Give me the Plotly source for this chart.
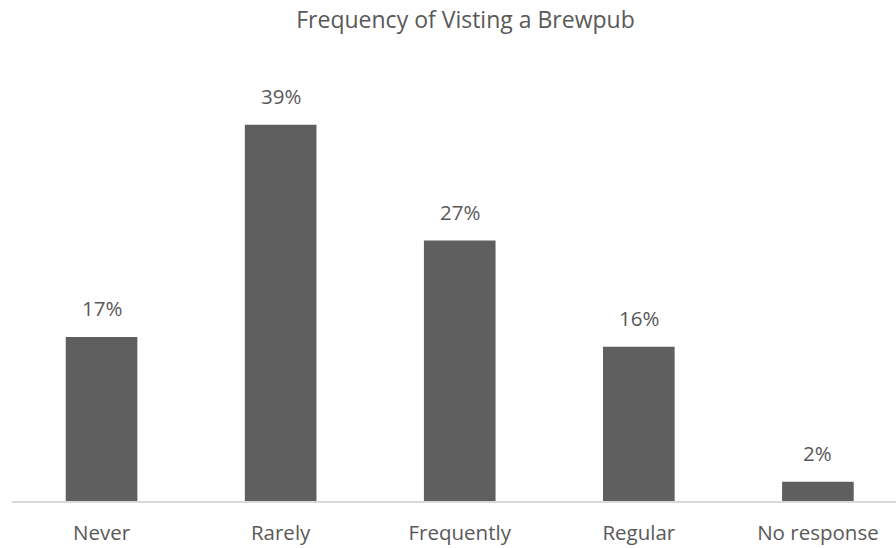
import plotly.graph_objects as go

categories = ["Never", "Rarely", "Frequently", "Regular", "No response"]
shares = [0.17, 0.39, 0.27, 0.16, 0.02]
labels = ["17%", "39%", "27%", "16%", "2%"]

text_color = "#595959"
font_family = "Open Sans, Liberation Sans, sans-serif"
positions = list(range(len(categories)))

fig = go.Figure(
    go.Bar(
        x=positions,
        y=shares,
        width=0.4,
        marker=dict(color="#5f5f5f", line=dict(width=0)),
        hoverinfo="x+y",
    )
)

# value labels sitting above each bar
for pos, val, lab in zip(positions, shares, labels):
    fig.add_annotation(
        x=pos,
        y=val,
        text=lab,
        showarrow=False,
        xanchor="center",
        yanchor="bottom",
        yshift=13,
        font=dict(family=font_family, size=20.5, color=text_color),
    )

fig.update_layout(
    width=896,
    height=548,
    paper_bgcolor="white",
    plot_bgcolor="white",
    margin=dict(l=12, r=0, t=67, b=47),
    showlegend=False,
    title=dict(
        text="Frequency of Visting a Brewpub",
        x=0.513,
        xref="paper",
        xanchor="center",
        y=0.963,
        yanchor="middle",
        font=dict(family=font_family, size=23, color=text_color),
    ),
    xaxis=dict(
        tickmode="array",
        tickvals=positions,
        ticktext=categories,
        range=[-0.5, 4.436],
        showgrid=False,
        zeroline=False,
        showline=True,
        linecolor="#d9d9d9",
        linewidth=1.5,
        ticks="",
        ticklabelstandoff=13,
        tickfont=dict(family=font_family, size=20.5, color=text_color),
    ),
    yaxis=dict(
        range=[0, 0.45],
        visible=False,
        showgrid=False,
        zeroline=False,
    ),
)

fig.write_html("out.html")
